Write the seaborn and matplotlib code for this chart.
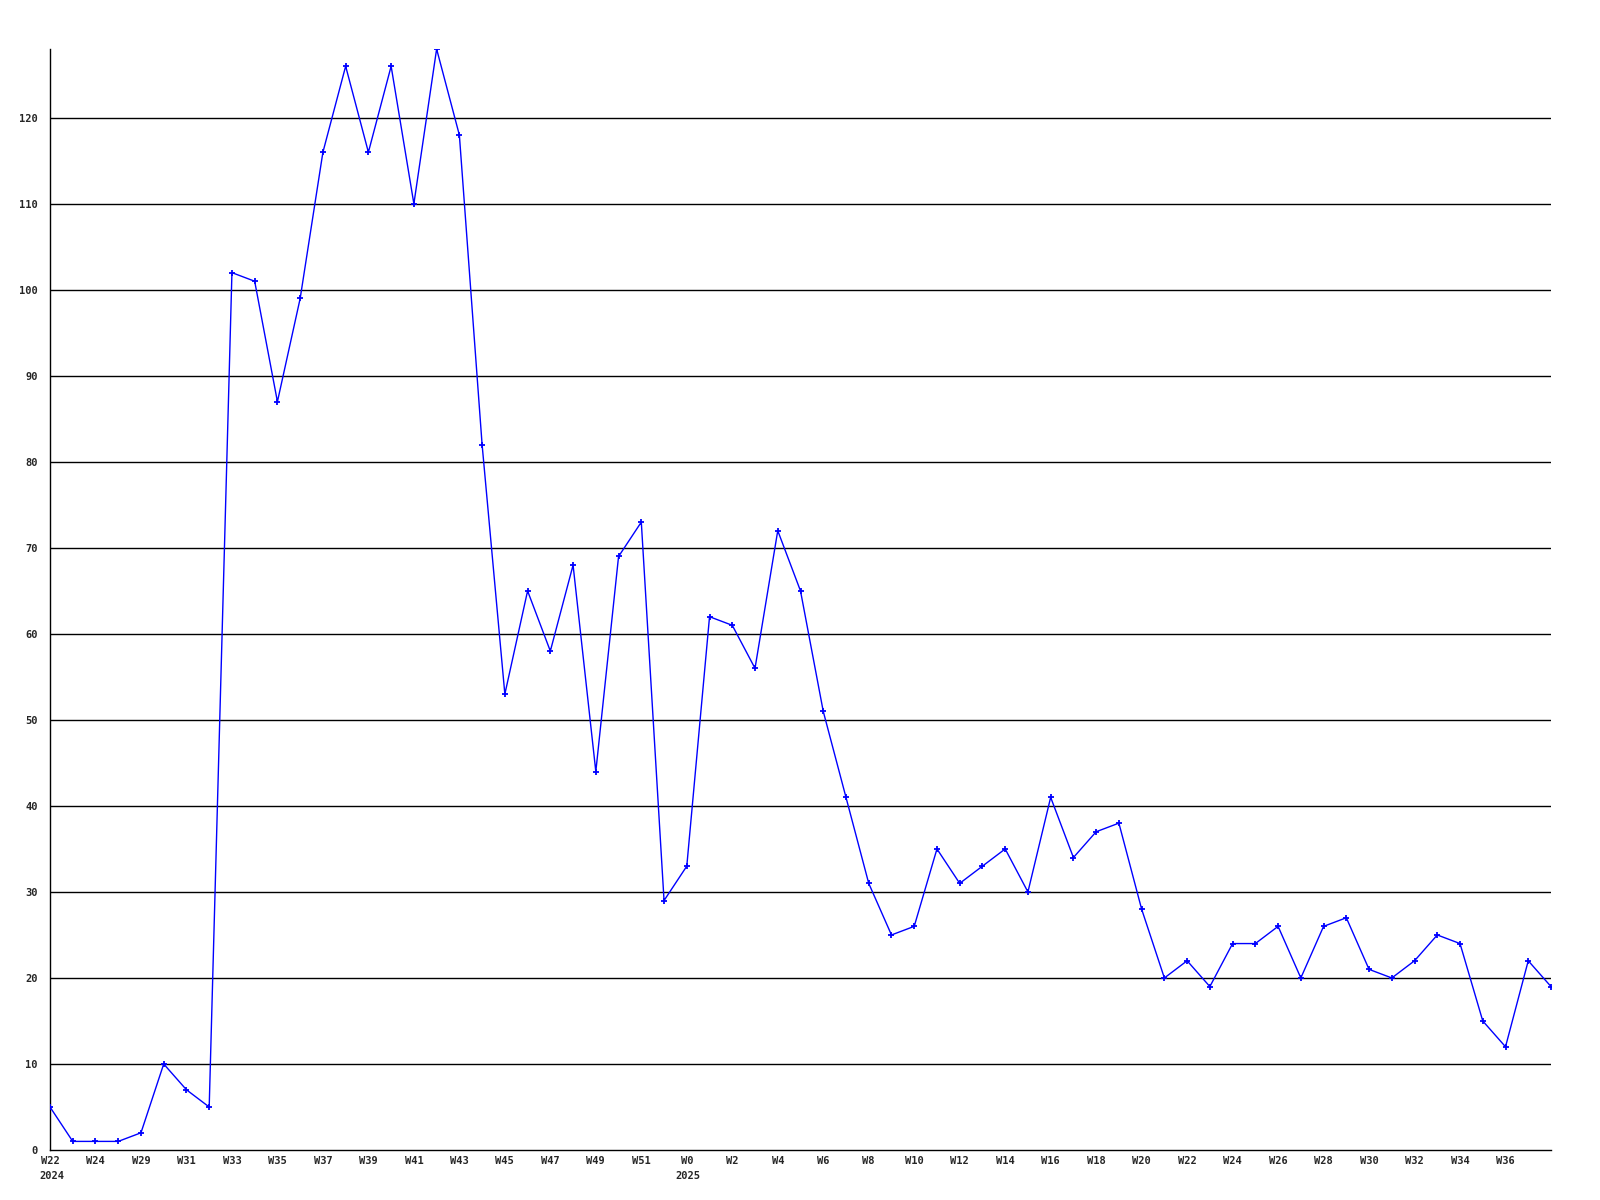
import matplotlib
matplotlib.use("Agg")
import matplotlib.pyplot as plt
import matplotlib.transforms as mtransforms
import seaborn as sns
import pandas as pd

# weekly counts, one point per week
values = [5, 1, 1, 1, 2, 10, 7, 5, 102, 101, 87, 99, 116, 126, 116, 126, 110, 128,
          118, 82, 53, 65, 58, 68, 44, 69, 73, 29, 33, 62, 61, 56, 72, 65, 51, 41,
          31, 25, 26, 35, 31, 33, 35, 30, 41, 34, 37, 38, 28, 20, 22, 19, 24, 24,
          26, 20, 26, 27, 21, 20, 22, 25, 24, 15, 12, 22, 19]

# labels on every other point
tick_labels = ["W22", "W24", "W29", "W31", "W33", "W35", "W37", "W39", "W41", "W43",
               "W45", "W47", "W49", "W51", "W0", "W2", "W4", "W6", "W8", "W10",
               "W12", "W14", "W16", "W18", "W20", "W22", "W24", "W26", "W28", "W30",
               "W32", "W34", "W36"]
years = {0: "2024", 28: "2025"}
y_ticks = list(range(0, 130, 10))

df = pd.DataFrame({"idx": range(len(values)), "count": values})

sns.set_style("white")
plt.rcParams["font.family"] = ["DejaVu Sans Mono", "DejaVu Sans"]
plt.rcParams["font.weight"] = "bold"

fig = plt.figure(figsize=(16, 12), dpi=100)
ax = fig.add_axes([50 / 1600, 1 - 1150 / 1200, 1501 / 1600, 1101 / 1200])

for y in y_ticks[1:]:
    ax.axhline(y, color="black", lw=1, zorder=1)

sns.lineplot(data=df, x="idx", y="count", ax=ax, color="#0000ff", lw=1,
             marker="+", markersize=4.5, markeredgewidth=1.3,
             markeredgecolor="#0000ff", zorder=3)

ax.set_xlim(0, len(values) - 1)
ax.set_ylim(0, max(values))
ax.set_yticks(y_ticks)
ax.set_yticklabels([str(v) for v in y_ticks], fontsize=7.5, fontweight="bold")
ax.set_xticks(range(0, 2 * len(tick_labels), 2))
ax.set_xticklabels(tick_labels, fontsize=7.5, fontweight="bold")
ax.tick_params(axis="y", length=0, pad=9)
ax.tick_params(axis="x", length=0, pad=4)
ax.set_xlabel("")
ax.set_ylabel("")

for s in ["top", "right"]:
    ax.spines[s].set_visible(False)
for s in ["left", "bottom"]:
    ax.spines[s].set_color("black")
    ax.spines[s].set_linewidth(1)

trans = mtransforms.blended_transform_factory(ax.transData, ax.transAxes)
for i, yr in years.items():
    ax.annotate(yr, xy=(i, 0), xycoords=trans, xytext=(-8, -15),
                textcoords="offset points", ha="left", va="top",
                fontsize=7.5, fontweight="bold")

fig.savefig("out.png", dpi=100)
